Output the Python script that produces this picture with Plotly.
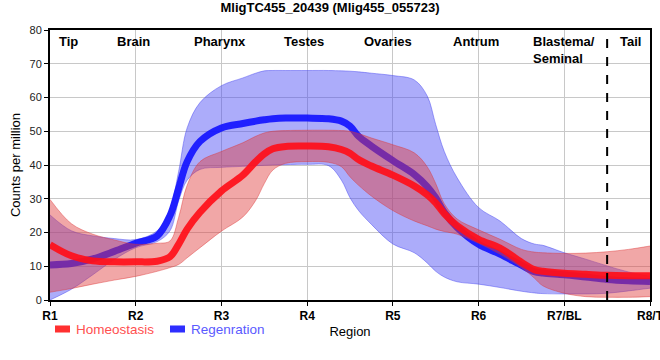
import plotly.graph_objects as go

# ---------------- data ----------------
tick_labels = ["R1", "R2", "R3", "R4", "R5", "R6", "R7/BL", "R8/T"]
region_names = ["Tip", "Brain", "Pharynx", "Testes", "Ovaries", "Antrum", "Blastema/<br>Seminal", "Tail"]
region_pos = [0.22, 0.97, 1.98, 2.96, 3.94, 4.97, 6.0, 6.77]
tail_boundary = 6.5
series_names = ["Homeostasis", "Regenration"]

x_pos = [0, .25, .5, .75, 1, 1.25, 1.4, 1.5, 1.6, 1.75, 2, 2.25, 2.4, 2.5, 2.6, 2.75,
         3, 3.25, 3.4, 3.5, 3.6, 3.75, 4, 4.25, 4.4, 4.5, 4.6, 4.75, 5, 5.25, 5.5,
         5.65, 5.75, 6, 6.25, 6.5, 6.75, 7]

homeo_mean = [16.4, 13.1, 11.6, 11.3, 11.3, 11.5, 12.8, 16.5, 21, 26, 32.3, 37, 41, 43.3, 44.8, 45.5,
              45.6, 45.4, 44.6, 43.5, 41.6, 39.7, 37, 33.8, 31.2, 28.8, 25.6, 22, 18, 15.4, 11.2,
              9, 8.5, 7.9, 7.6, 7.3, 7.2, 7.2]
homeo_upper = [29.8, 22.6, 19.5, 17.8, 16.5, 16.8, 17.5, 24.4, 34, 41, 44, 46.6, 48.5, 49.5, 50, 50.2,
               50.3, 50.3, 50.2, 50, 49.3, 48, 46, 43.6, 39.5, 34.5, 28.5, 24, 20.8, 18, 15,
               14.2, 14, 13.8, 13.9, 14.3, 15, 16]
homeo_lower = [2.3, 3.4, 4.7, 5.9, 7, 8.5, 9.6, 10.5, 12.5, 15.5, 20.4, 24.6, 29.5, 34.5, 38.5, 40.5,
               41, 40.8, 39.5, 36.5, 34, 30.8, 26.5, 23.4, 22, 21, 20.3, 19.5, 16.8, 13.6, 9.6,
               6.5, 4.2, 2, 1, 0.8, 0.8, 1]

regen_mean = [10.4, 10.8, 12.2, 14.4, 16.8, 19, 25, 33, 41, 47, 51, 52.3, 53, 53.4, 53.7, 53.9,
              53.9, 53.7, 53, 51.5, 48.5, 45.6, 41.3, 37.2, 33.6, 30.3, 26, 21.5, 16.5, 13.6, 10.3,
              8.4, 8, 7.5, 6.8, 6.1, 5.7, 5.5]
regen_upper = [25.2, 20.5, 19, 18.2, 17.9, 20.5, 27, 38, 51, 58.5, 63.5, 65.8, 67.2, 67.9, 68, 68,
               68, 68, 67.9, 67.8, 67.6, 67.2, 66.5, 65.2, 60.5, 52, 44, 36.2, 27.4, 23.4, 18.2,
               16.6, 16.2, 14, 12.1, 10.1, 8.3, 7]
regen_lower = [0, 3.2, 7.5, 12, 15.5, 17.3, 20.5, 29.3, 35.5, 38.7, 39.3, 39.6, 39.8, 39.9, 40, 40.1,
               40.2, 39.8, 35.5, 30.3, 26.5, 22.4, 16.6, 14, 11, 8.5, 6.8, 5.4, 4.7, 3.7, 2.6,
               2.1, 1.9, 1.8, 1.8, 2.0, 2.7, 3.5]

FONT = "Arial, Liberation Sans, sans-serif"
RED_LINE = "rgba(255,15,25,0.92)"
BLUE_LINE = "rgba(20,20,255,0.92)"

fig = go.Figure()

def band(lower, upper, fillc, edgec):
    fig.add_trace(go.Scatter(x=x_pos, y=lower, mode="lines", line=dict(color=edgec, width=0.8, shape="spline"),
                             showlegend=False, hoverinfo="skip"))
    fig.add_trace(go.Scatter(x=x_pos, y=upper, mode="lines", line=dict(color=edgec, width=0.8, shape="spline"),
                             fill="tonexty", fillcolor=fillc, showlegend=False, hoverinfo="skip"))

band(regen_lower, regen_upper, "rgba(70,70,245,0.45)", "rgba(60,60,240,0.55)")
fig.add_trace(go.Scatter(x=x_pos, y=regen_mean, mode="lines",
                         line=dict(color=BLUE_LINE, width=7, shape="spline"),
                         name=series_names[1], showlegend=False))
band(homeo_lower, homeo_upper, "rgba(225,60,60,0.45)", "rgba(220,50,50,0.55)")
fig.add_trace(go.Scatter(x=x_pos, y=homeo_mean, mode="lines",
                         line=dict(color=RED_LINE, width=7, shape="spline"),
                         name=series_names[0], showlegend=False))

fig.add_shape(type="line", x0=tail_boundary, x1=tail_boundary, y0=0, y1=1, xref="x", yref="paper",
              line=dict(color="black", width=2, dash="dash"))

for name, pos in zip(region_names, region_pos):
    fig.add_annotation(x=pos, y=1, xref="x", yref="paper", yanchor="top", yshift=-2,
                       text="<b>" + name + "</b>", showarrow=False,
                       align="left", font=dict(family=FONT, size=13, color="black"))

# legend (swatch + coloured text), placed below the axis like the reference
legend_items = [(series_names[0], "#ff3030", "#ff5050", 0.0083), (series_names[1], "#2e2eff", "#5a5aff", 0.2)]
for label, sw, tc, x0 in legend_items:
    fig.add_shape(type="rect", xref="paper", yref="paper", x0=x0, x1=x0 + 0.025,
                  y0=-0.1204, y1=-0.0944, line=dict(width=0), fillcolor=sw)
    fig.add_annotation(x=x0 + 0.0317, y=-0.1077, xref="paper", yref="paper", xanchor="left",
                       yanchor="middle", text=label, showarrow=False,
                       font=dict(family=FONT, size=13.5, color=tc))

fig.update_layout(
    width=660, height=360,
    margin=dict(l=50, r=10, t=30, b=60, autoexpand=False),
    paper_bgcolor="white", plot_bgcolor="white",
    title=dict(text="<b>MligTC455_20439 (Mlig455_055723)</b>", x=0.5, xanchor="center",
               y=0.978, yanchor="middle", font=dict(family=FONT, size=13, color="black")),
    font=dict(family=FONT, size=12, color="black"),
    showlegend=False,
)
fig.update_xaxes(range=[0, 7], tickvals=list(range(len(tick_labels))),
                 ticktext=["<b>" + t + "</b>" for t in tick_labels],
                 ticklabeloverflow="allow", automargin=False,
                 showgrid=True, gridcolor="#c8c8c8", gridwidth=1,
                 showline=True, linecolor="black", linewidth=2, mirror=True,
                 ticks="outside", ticklen=4, tickcolor="black",
                 tickfont=dict(family=FONT, size=12, color="black"),
                 title=dict(text="Region", font=dict(family=FONT, size=13, color="black"), standoff=4),
                 zeroline=False)
fig.update_yaxes(range=[0, 80], dtick=10, automargin=False,
                 showgrid=True, gridcolor="#c8c8c8", gridwidth=1,
                 showline=True, linecolor="black", linewidth=2, mirror=True,
                 ticks="outside", ticklen=4, tickcolor="black",
                 tickfont=dict(family=FONT, size=11, color="#222"),
                 title=dict(text="Counts per million", font=dict(family=FONT, size=13, color="black"), standoff=6),
                 zeroline=False)

fig.write_html("out.html", config={"displayModeBar": False},
               post_script="document.body.style.margin='0';")
